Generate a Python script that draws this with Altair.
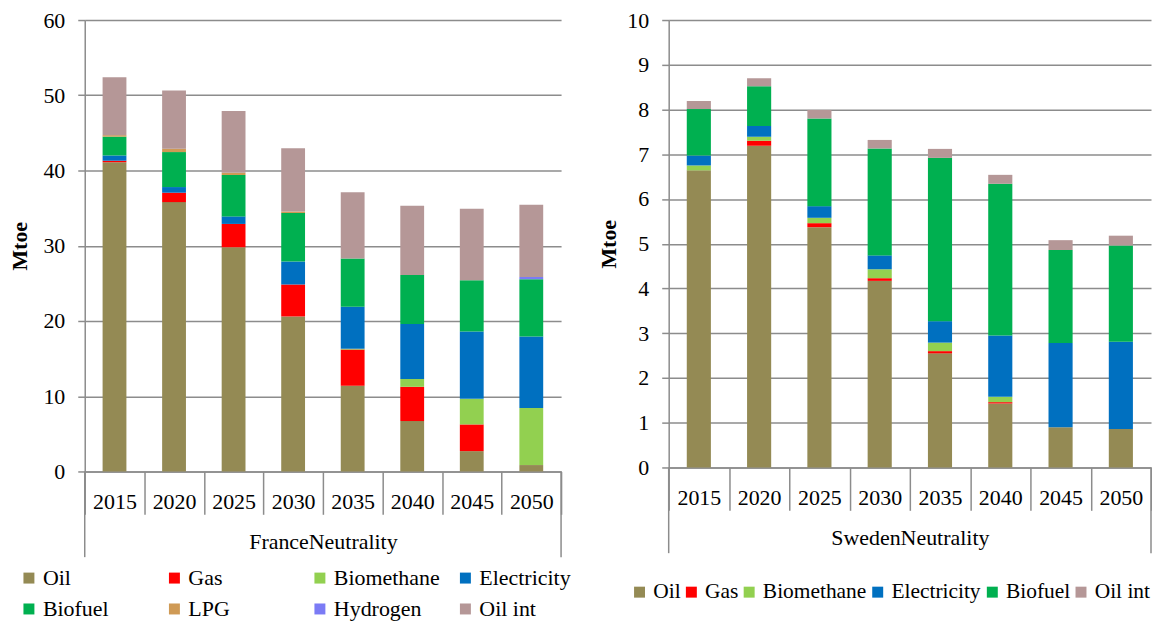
import altair as alt
import pandas as pd

years = ["2015", "2020", "2025", "2030", "2035", "2040", "2045", "2050"]

# France (Mtoe)
fr_series = ["Oil", "Gas", "Biomethane", "Electricity", "Biofuel", "LPG", "Hydrogen", "Oil int"]
fr_oil = [41.1, 35.8, 29.8, 20.6, 11.4, 6.7, 2.7, 0.85]
fr_gas = [0.2, 1.25, 3.1, 4.25, 4.8, 4.55, 3.55, 0.0]
fr_biomethane = [0.0, 0.0, 0.0, 0.0, 0.1, 1.05, 3.4, 7.6]
fr_electricity = [0.7, 0.75, 1.0, 3.05, 5.6, 7.3, 8.95, 9.5]
fr_biofuel = [2.5, 4.65, 5.5, 6.45, 6.4, 6.5, 6.8, 7.6]
fr_lpg = [0.2, 0.45, 0.3, 0.2, 0.0, 0.0, 0.0, 0.0]
fr_hydrogen = [0.0, 0.0, 0.0, 0.0, 0.0, 0.0, 0.0, 0.3]
fr_oil_int = [7.7, 7.75, 8.2, 8.4, 8.8, 9.2, 9.5, 9.6]

# Sweden (Mtoe)
se_series = ["Oil", "Gas", "Biomethane", "Electricity", "Biofuel", "Oil int"]
se_oil = [6.64, 7.19, 5.37, 4.17, 2.55, 1.43, 0.90, 0.86]
se_gas = [0.0, 0.11, 0.09, 0.06, 0.05, 0.03, 0.0, 0.0]
se_biomethane = [0.11, 0.09, 0.12, 0.20, 0.19, 0.12, 0.0, 0.0]
se_electricity = [0.22, 0.24, 0.26, 0.31, 0.48, 1.37, 1.88, 1.95]
se_biofuel = [1.04, 0.89, 1.96, 2.39, 3.65, 3.39, 2.08, 2.15]
se_oil_int = [0.18, 0.18, 0.19, 0.19, 0.20, 0.20, 0.22, 0.22]

colors = {
    "Oil": "#948A54",
    "Gas": "#FF0000",
    "Biomethane": "#92D050",
    "Electricity": "#0070C0",
    "Biofuel": "#00B050",
    "LPG": "#CF9A55",
    "Hydrogen": "#7B7BF5",
    "Oil int": "#B59797",
}

FONT = "Liberation Serif"
GRID = "#8c8c8c"


def to_long(names, values):
    rows = []
    for i, name in enumerate(names):
        for yr, v in zip(years, values[i]):
            rows.append({"year": yr, "series": name, "value": v, "idx": i})
    return pd.DataFrame(rows)


fr_df = to_long(fr_series, [fr_oil, fr_gas, fr_biomethane, fr_electricity,
                            fr_biofuel, fr_lpg, fr_hydrogen, fr_oil_int])
se_df = to_long(se_series, [se_oil, se_gas, se_biomethane, se_electricity,
                            se_biofuel, se_oil_int])


def panel(df, names, ymax, ystep, width, height, group_title, legend, title_pad):
    xaxis = alt.Axis(
        title=group_title, tickBand="extent", tickSize=43, tickColor=GRID, tickWidth=1.5,
        domainColor=GRID, domainWidth=1.5, labelAngle=0, labelBaseline="middle",
        labelPadding=-13, labelFontSize=22, labelFont=FONT, labelColor="black",
        titleFont=FONT, titleFontSize=22, titleFontWeight="normal", titleColor="black",
        titlePadding=17, grid=False,
    )
    xscale = alt.Scale(paddingInner=0, paddingOuter=0)
    yaxis = alt.Axis(
        title="Mtoe", values=list(range(0, ymax + 1, ystep)), tickSize=7, tickColor=GRID,
        tickWidth=1.5, domainColor=GRID, domainWidth=1.5, grid=True, gridColor=GRID,
        gridWidth=1.5, labelFont=FONT, labelFontSize=22, labelColor="black", labelPadding=13,
        titleFont=FONT, titleFontSize=22, titleFontWeight="bold", titleColor="black",
        titlePadding=title_pad,
    )
    bars = alt.Chart(df).mark_bar(width=alt.RelativeBandSize(0.4)).encode(
        x=alt.X("year:N", sort=years, scale=xscale, axis=xaxis),
        y=alt.Y("value:Q", stack="zero", scale=alt.Scale(domain=[0, ymax], nice=False), axis=yaxis),
        color=alt.Color("series:N",
                        scale=alt.Scale(domain=names, range=[colors[n] for n in names]),
                        legend=legend),
        order=alt.Order("idx:Q", sort="ascending"),
    )
    left_edge = alt.Chart(pd.DataFrame({"year": [years[0]]})).mark_rule(
        color=GRID, strokeWidth=1.5).encode(
        x=alt.X("year:N", sort=years, scale=xscale, axis=xaxis, bandPosition=0),
        y=alt.value(height), y2=alt.value(height + 86),
    )
    right_edge = alt.Chart(pd.DataFrame({"year": [years[-1]]})).mark_rule(
        color=GRID, strokeWidth=1.5).encode(
        x=alt.X("year:N", sort=years, scale=xscale, axis=xaxis, bandPosition=1),
        y=alt.value(height), y2=alt.value(height + 86),
    )
    return alt.layer(bars, left_edge, right_edge).properties(width=width, height=height)


fr_legend = alt.Legend(
    title=None, orient="none", legendX=-67, legendY=549, direction="horizontal",
    columns=4, gridAlign="all", columnPadding=14, rowPadding=9, padding=0,
    symbolType="square", symbolSize=121, symbolStrokeWidth=0,
    labelFont=FONT, labelFontSize=22, labelColor="black", labelOffset=3,
)
se_legend = alt.Legend(
    title=None, orient="none", legendX=-40, legendY=563, direction="horizontal",
    columns=6, columnPadding=0, padding=0,
    symbolType="square", symbolSize=121, symbolStrokeWidth=0,
    labelFont=FONT, labelFontSize=21.5, labelColor="black", labelOffset=3,
)

left = panel(fr_df, fr_series, 60, 10, 478, 453, "FranceNeutrality", fr_legend, 11)
right = panel(se_df, se_series, 10, 1, 484, 449, "SwedenNeutrality", se_legend, 6)

chart = alt.hconcat(left, right, spacing=27).resolve_scale(
    color="independent", y="independent", x="independent"
).configure(
    padding={"left": 1, "top": 0, "right": 0, "bottom": 0},
    background="white",
).configure_view(strokeWidth=0)

chart.save("out.html", embed_options={"renderer": "svg", "actions": False})
